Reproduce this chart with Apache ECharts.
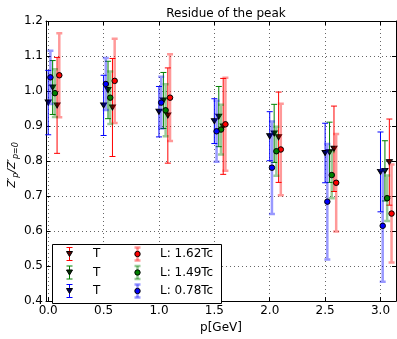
<!DOCTYPE html>
<html><head><meta charset="utf-8">
<script src="https://cdn.jsdelivr.net/npm/echarts@6/dist/echarts.min.js"></script>
<style>html,body{margin:0;padding:0;background:#fff}#c{width:397px;height:339px}</style>
</head><body><div id="c"></div>
<script>
// ---- data ----
const momenta = [0, 0.5, 1.0, 1.5, 2.0, 2.5, 3.0];
const xTicks = [0, 0.5, 1.0, 1.5, 2.0, 2.5, 3.0];
const yTicks = [0.4, 0.5, 0.6, 0.7, 0.8, 0.9, 1.0, 1.1, 1.2];

const T_red        = [0.959, 0.953, 0.930, 0.899, 0.868, 0.835, 0.797];
const T_red_err    = [0.137, 0.140, 0.136, 0.137, 0.129, 0.122, 0.123];
const T_green      = [1.010, 1.003, 0.973, 0.927, 0.879, 0.825, 0.772];
const T_green_err  = [0.077, 0.082, 0.080, 0.086, 0.083, 0.086, 0.086];
const T_blue       = [0.967, 0.959, 0.941, 0.914, 0.871, 0.823, 0.769];
const T_blue_err   = [0.092, 0.086, 0.072, 0.064, 0.070, 0.085, 0.114];
const L_red        = [1.045, 1.029, 0.981, 0.905, 0.833, 0.738, 0.650];
const L_red_err    = [0.120, 0.120, 0.124, 0.133, 0.131, 0.139, 0.140];
const L_green      = [0.994, 0.981, 0.945, 0.890, 0.828, 0.760, 0.694];
const L_green_err  = [0.068, 0.075, 0.074, 0.071, 0.070, 0.066, 0.065];
const L_blue       = [1.039, 1.020, 0.967, 0.885, 0.781, 0.684, 0.615];
const L_blue_err   = [0.076, 0.074, 0.074, 0.087, 0.132, 0.165, 0.160];

const seriesNames   = ['T', 'T', 'T', 'L: 1.62Tc', 'L: 1.49Tc', 'L: 0.78Tc'];
const seriesValues  = [T_red, T_green, T_blue, L_red, L_green, L_blue];
const seriesErrors  = [T_red_err, T_green_err, T_blue_err, L_red_err, L_green_err, L_blue_err];
const seriesOffsets = [0.08, 0.04, 0.00, 0.10, 0.06, 0.02];
const seriesColors  = ['#ff0000', '#008000', '#0000ff', '#ff0000', '#008000', '#0000ff'];
const markerFills   = ['#5a0000', '#003000', '#00005a', '#ff0000', '#008000', '#0000ff'];
const seriesKind    = ['T', 'T', 'T', 'L', 'L', 'L'];

const FONT = 'DejaVu Sans';

function barStyle(kind) {
  return kind === 'T' ? { lw: 1, op: 1 } : { lw: 2.5, op: 0.4 };
}

function errRender(color, kind) {
  const st = barStyle(kind);
  return function (params, api) {
    const x = api.value(0), y = api.value(1), e = api.value(2);
    const t = api.coord([x, y + e]), b = api.coord([x, y - e]);
    const cw = 3;
    const d = 'M' + t[0] + ' ' + t[1] + 'L' + b[0] + ' ' + b[1] +
      'M' + (t[0] - cw) + ' ' + t[1] + 'L' + (t[0] + cw) + ' ' + t[1] +
      'M' + (b[0] - cw) + ' ' + b[1] + 'L' + (b[0] + cw) + ' ' + b[1];
    return { type: 'path', shape: { pathData: d },
      style: { stroke: color, lineWidth: st.lw, fill: null, opacity: st.op } };
  };
}

const series = [];
seriesValues.forEach((vals, s) => {
  const pts = momenta.map((p, i) => [p + seriesOffsets[s], vals[i], seriesErrors[s][i]]);
  series.push({
    type: 'custom', name: seriesNames[s] + s, renderItem: errRender(seriesColors[s], seriesKind[s]),
    data: pts, encode: { x: 0, y: 1 }, z: 2 + s * 2, silent: true, clip: false
  });
  series.push({
    type: 'scatter', name: seriesNames[s] + 'm' + s,
    data: pts.map(q => [q[0], q[1]]),
    symbol: seriesKind[s] === 'T' ? 'triangle' : 'circle',
    symbolRotate: seriesKind[s] === 'T' ? 180 : 0,
    symbolSize: seriesKind[s] === 'T' ? [6, 5] : 5.5,
    itemStyle: { color: markerFills[s], borderColor: '#000', borderWidth: 1, opacity: 1 },
    z: 3 + s * 2, silent: true
  });
});

// legend drawn as graphic
const legX = 52, legY = 244, legW = 169, legH = 59;
const rowsY = [254, 272.5, 291];
const legend = [{ type: 'rect', shape: { x: legX + 0.5, y: legY + 0.5, width: legW, height: legH },
  style: { fill: '#fff', stroke: '#000', lineWidth: 1 }, z: 100 }];
seriesNames.forEach((nm, s) => {
  const col = s < 3 ? 0 : 1;
  const row = s % 3;
  const mx = col === 0 ? 69.5 : 137.5;
  const tx = col === 0 ? 93 : 160;
  const cy = rowsY[row];
  const st = barStyle(seriesKind[s]);
  const h = 6.5, cw = 3;
  const ls = { stroke: seriesColors[s], lineWidth: st.lw, opacity: st.op };
  legend.push({ type: 'line', shape: { x1: mx, y1: cy - h, x2: mx, y2: cy + h }, style: ls, z: 101 });
  legend.push({ type: 'line', shape: { x1: mx - cw, y1: cy - h, x2: mx + cw, y2: cy - h }, style: ls, z: 101 });
  legend.push({ type: 'line', shape: { x1: mx - cw, y1: cy + h, x2: mx + cw, y2: cy + h }, style: ls, z: 101 });
  if (seriesKind[s] === 'T') {
    legend.push({ type: 'polygon', shape: { points: [[mx - 3, cy - 2.5], [mx + 3, cy - 2.5], [mx, cy + 2.5]] },
      style: { fill: markerFills[s], stroke: '#000', lineWidth: 1 }, z: 102 });
  } else {
    legend.push({ type: 'circle', shape: { cx: mx, cy: cy, r: 2.7 },
      style: { fill: markerFills[s], stroke: '#000', lineWidth: 1 }, z: 102 });
  }
  legend.push({ type: 'text', x: tx, y: cy, style: { text: nm, fontSize: 12, fontFamily: FONT,
    fill: '#000', verticalAlign: 'middle', align: 'left' }, z: 102 });
});

// y-axis label (rotated rich text)
legend.push({ type: 'text', x: 12, y: 165, rotation: Math.PI / 2,
  style: { text: '{z|Z′}{s|p}{z|/Z′}{s|p=0}', align: 'center', verticalAlign: 'middle',
    fontFamily: FONT, fill: '#000',
    rich: { z: { fontSize: 11, fontStyle: 'italic', fontFamily: FONT, lineHeight: 16, verticalAlign: 'middle' },
            s: { fontSize: 8, fontStyle: 'italic', fontFamily: FONT, lineHeight: 16, verticalAlign: 'bottom', padding: [4, 0, 0, 0] } } },
  z: 100 });

const gridLine = { show: true, lineStyle: { color: '#666', width: 1, type: [1, 3] } };
const tickIn = { show: true, inside: true, length: 4, lineStyle: { color: '#000', width: 1 } };

const option = {
  animation: false,
  backgroundColor: '#fff',
  title: { text: 'Residue of the peak', left: 221, top: 3, textAlign: 'center',
    textStyle: { fontSize: 12, fontWeight: 'normal', fontFamily: FONT, color: '#000' } },
  grid: { left: 46, right: 1, top: 21, bottom: 30 },
  xAxis: [
    { type: 'value', min: -0.02, max: 3.14, splitNumber: 6,
      name: 'p[GeV]', nameLocation: 'middle', nameGap: 16,
      nameTextStyle: { fontSize: 12, fontFamily: FONT, color: '#000' },
      axisLine: { show: true, onZero: false, lineStyle: { color: '#000', width: 1 } },
      axisTick: tickIn, splitLine: gridLine,
      axisLabel: { showMinLabel: false, showMaxLabel: false, margin: 4, fontSize: 12, fontFamily: FONT, color: '#000',
        formatter: v => (xTicks.some(t => Math.abs(t - v) < 1e-9) ? v.toFixed(1) : '') } },
    { type: 'value', min: -0.02, max: 3.14, splitNumber: 6, position: 'top',
      axisLine: { show: true, onZero: false, lineStyle: { color: '#000', width: 1 } },
      axisTick: tickIn, splitLine: { show: false }, axisLabel: { show: false } }
  ],
  yAxis: [
    { type: 'value', min: 0.4, max: 1.2, interval: 0.1,
      axisLine: { show: true, onZero: false, lineStyle: { color: '#000', width: 1 } },
      axisTick: tickIn, splitLine: gridLine,
      axisLabel: { margin: 3, fontSize: 12, fontFamily: FONT, color: '#000',
        formatter: v => (yTicks.some(t => Math.abs(t - v) < 1e-9) ? v.toFixed(1) : '') } },
    { type: 'value', min: 0.4, max: 1.2, interval: 0.1, position: 'right',
      axisLine: { show: true, onZero: false, lineStyle: { color: '#000', width: 1 } },
      axisTick: tickIn, splitLine: { show: false }, axisLabel: { show: false } }
  ],
  series: series,
  graphic: legend
};

const chart = echarts.init(document.getElementById('c'), null, { renderer: 'canvas' });
chart.setOption(option);
</script>
</body></html>
